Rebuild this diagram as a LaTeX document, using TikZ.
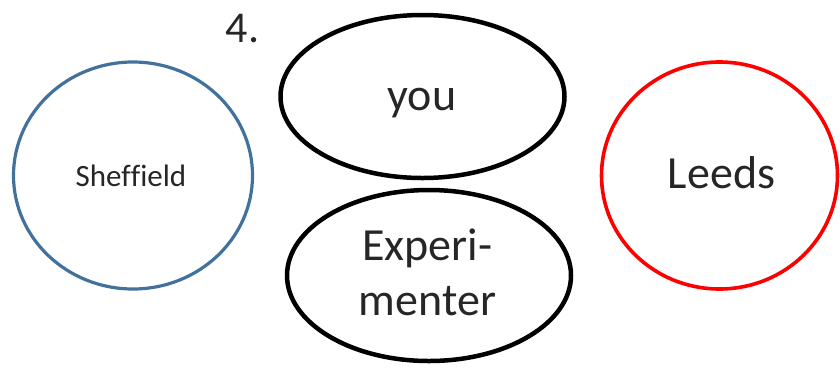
\documentclass[tikz,border=0pt]{standalone}
\usepackage{fontspec}
\setmainfont{Carlito}
\usetikzlibrary{shapes.geometric}
\definecolor{shblue}{RGB}{65,113,156}
\definecolor{txt}{RGB}{38,38,38}
\tikzset{
  oval/.style={draw, ellipse, inner sep=0pt, fill=none},
  lbl/.style={anchor=base, inner sep=0pt, text=txt},
}
\begin{document}
\begin{tikzpicture}[x=1pt,y=-1pt]
\useasboundingbox (0,0) rectangle (840,368);
% shapes
\node[oval, draw=shblue, line width=3.2pt, minimum width=239pt, minimum height=227pt] (sheff) at (133,175.5) {};
\node[oval, draw=red, line width=3.6pt, minimum width=236pt, minimum height=227pt] (leeds) at (719.5,175.5) {};
\node[oval, draw=black, line width=4.5pt, minimum width=284pt, minimum height=163pt] (you) at (422.5,96.5) {};
\node[oval, draw=black, line width=4.5pt, minimum width=284pt, minimum height=171pt] (exp) at (429,275.5) {};
% texts
\node[lbl, font=\fontsize{44}{52}\selectfont] (num) at (242.5,42) {4.};
\node[lbl, font=\fontsize{31}{37}\selectfont] (sheffT) at (131,186) {Shef\kern0ptf\kern0ptield};
\node[lbl, font=\fontsize{46}{55}\selectfont] (leedsT) at (721.5,188) {Leeds};
\node[lbl, font=\fontsize{46}{55}\selectfont] (youT) at (422,110) {you};
\node[lbl, font=\fontsize{46}{55}\selectfont] (expT1) at (427.5,260) {Experi-};
\node[lbl, font=\fontsize{46}{55}\selectfont] (expT2) at (427.5,315) {menter};
\end{tikzpicture}
\end{document}
